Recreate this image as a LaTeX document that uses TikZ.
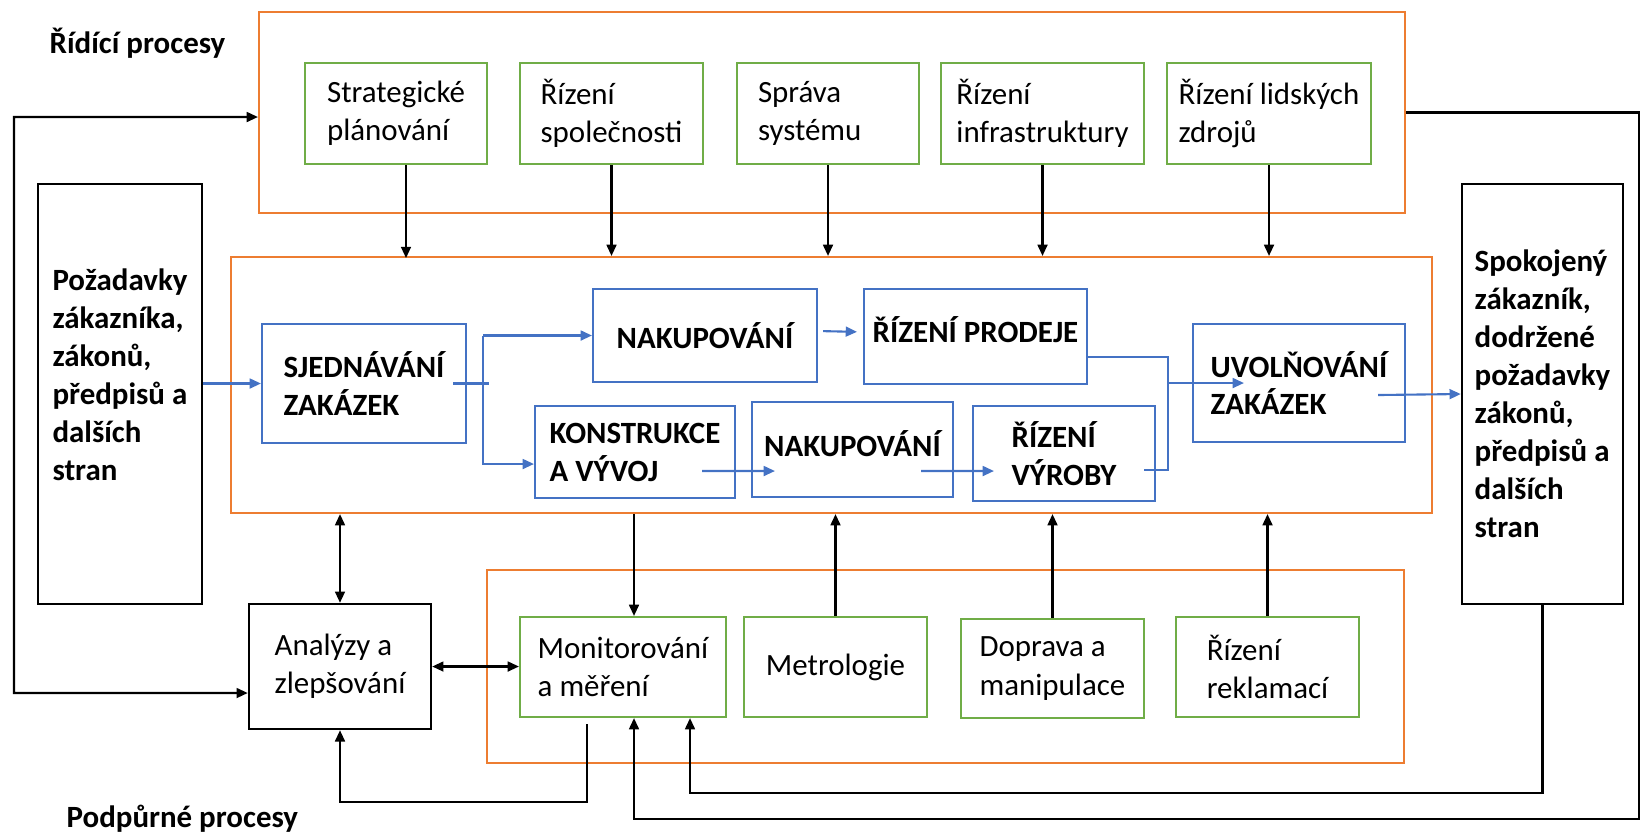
\documentclass[tikz,border=0pt]{standalone}
\usepackage{fontspec}
\setmainfont{Carlito}
\usetikzlibrary{arrows.meta}

\definecolor{regorange}{RGB}{237,125,49}
\definecolor{supgreen}{RGB}{112,173,71}
\definecolor{corblue}{RGB}{68,114,196}

\begin{document}
\begin{tikzpicture}[
    font=\fontsize{8.8}{10.9}\selectfont,
    region/.style={draw=regorange, line width=0.6pt, inner sep=0pt},
    gbox/.style={draw=supgreen, line width=0.6pt, minimum height=1.0cm, align=left, inner sep=0pt},
    bbox/.style={draw=corblue, line width=0.6pt, align=left, inner sep=0pt,
                 font=\fontsize{8.8}{10.8}\selectfont\bfseries},
    kbox/.style={draw, line width=0.7pt, align=left, inner sep=0pt},
    arr/.style={->, >={Triangle[length=3.2pt, width=2.8pt]}, line width=0.6pt},
    barr/.style={arr, draw=corblue},
    bline/.style={draw=corblue, line width=0.6pt},
    title/.style={font=\fontsize{8.8}{10.8}\selectfont\bfseries, anchor=base west, inner sep=0pt},
  ]
  \useasboundingbox (0,0) rectangle (16.49,-8.33);

  % process regions
  \node[region, minimum width=11.46cm, minimum height=2.01cm] (ctrl) at (8.32,-1.125) {};
  \node[region, minimum width=12.01cm, minimum height=2.56cm] (main) at (8.315,-3.85) {};
  \node[region, minimum width=9.17cm, minimum height=1.93cm] (supp) at (9.455,-6.665) {};

  \node[title] (tctrl) at (0.49,-0.53) {Řídící procesy};
  \node[title] (tsupp) at (0.66,-8.27) {Podpůrné procesy};

  % control processes
  \node[gbox, minimum width=1.82cm, minimum height=1.01cm] (strat) at (3.96,-1.135) {Strategické\\plánování};
  \node[gbox, minimum width=1.83cm, minimum height=1.01cm] (spol) at (6.115,-1.135) {Řízení\\společnosti};
  \node[gbox, text width=1.40cm, inner xsep=0.21cm, minimum height=1.01cm] (sys) at (8.28,-1.135) {Správa\\systému};
  \node[gbox, minimum width=2.03cm, minimum height=1.01cm] (infra) at (10.425,-1.135) {Řízení\\infrastruktury};
  \node[gbox, minimum width=2.04cm, minimum height=1.01cm] (hr) at (12.69,-1.135) {Řízení lidských\\zdrojů};

  % main processes
  \node[bbox, minimum width=2.04cm, minimum height=1.19cm] (sjed) at (3.64,-3.835) {SJEDNÁVÁNÍ\\ZAKÁZEK};
  \node[bbox, minimum width=2.24cm, minimum height=0.93cm] (nak1) at (7.05,-3.355) {NAKUPOVÁNÍ};
  \node[bbox, minimum width=2.23cm, minimum height=0.95cm, text depth=0.14cm] (prod) at (9.755,-3.365) {ŘÍZENÍ PRODEJE};
  \node[bbox, minimum width=2.00cm, minimum height=0.92cm] (kon) at (6.35,-4.52) {KONSTRUKCE\\A VÝVOJ};
  \node[bbox, minimum width=2.01cm, minimum height=0.95cm, text depth=0.12cm] (nak2) at (8.525,-4.495) {NAKUPOVÁNÍ};
  \node[bbox, minimum width=1.82cm, minimum height=0.95cm] (vyr) at (10.64,-4.535) {ŘÍZENÍ\\VÝROBY};
  \node[bbox, minimum width=2.12cm, minimum height=1.18cm] (uvol) at (12.99,-3.83) {UVOLŇOVÁNÍ\\ZAKÁZEK};

  % inputs and outputs
  \node[kbox, minimum width=1.64cm, minimum height=4.20cm, text depth=0.38cm, font=\fontsize{8.8}{10.8}\selectfont\bfseries]
    (req) at (1.20,-3.94) {Požadavky\\zákazníka,\\zákonů,\\předpisů a\\dalších\\stran};
  \node[kbox, minimum width=1.61cm, minimum height=4.20cm, font=\fontsize{8.8}{10.8}\selectfont\bfseries]
    (sat) at (15.425,-3.94) {Spokojený\\zákazník,\\dodržené\\požadavky\\zákonů,\\předpisů a\\dalších\\stran};
  \node[kbox, minimum width=1.82cm, minimum height=1.25cm] (anal) at (3.40,-6.665) {Analýzy a\\zlepšování};

  % support processes
  \node[gbox, minimum width=2.06cm] (mon) at (6.23,-6.67) {Monitorování\\a měření};
  \node[gbox, minimum width=1.83cm] (met) at (8.355,-6.67) {Metrologie};
  \node[gbox, minimum width=1.83cm, minimum height=0.99cm] (dop) at (10.525,-6.685) {Doprava a\\manipulace};
  \node[gbox, minimum width=1.83cm] (rekl) at (12.675,-6.67) {Řízení\\reklamací};

  % corner points of the feedback lines
  \coordinate (lc) at (0.14,-6.93);
  \coordinate (fb) at (3.40,-8.02);
  \coordinate (ib) at (6.90,-7.93);
  \coordinate (ob) at (6.34,-8.19);
  \coordinate (oc) at (16.39,-8.19);
  \coordinate (sp) at (4.83,-3.82);
  \coordinate (mgt) at (11.68,-3.57);
  \coordinate (mgb) at (11.68,-4.70);

  % control -> main
  \draw[arr] ([xshift=0.1cm]strat.south) -- ++(0,-0.93);
  \foreach \n in {spol,sys,infra,hr}
    \draw[arr] (\n.south) -- (\n.south |- main.north);

  % support -> main
  \foreach \n in {met,dop,rekl}
    \draw[arr] (\n.north) -- (\n.north |- main.south);
  \draw[arr] (ob |- main.south) -- (ob |- mon.north);

  % feedback loops
  \draw[arr, <->] ([yshift=-0.045cm]ctrl.west) -| (lc) -- ([yshift=-0.265cm]anal.west);
  \draw[arr, <->] (anal.north) -- (anal.north |- main.south);
  \draw[arr, <->] (anal.east) -- (anal.east -| mon.west);
  \draw[arr] ([xshift=-0.36cm,yshift=-0.06cm]mon.south) |- (fb) -- (anal.south);
  \draw[arr] (sat.south) |- (ib) -- (ib |- mon.south);
  \draw[arr] (ctrl.east) -| (oc) -- (ob) -- (ob |- mon.south);

  % main process flow
  \draw[barr] (req.east |- sjed.west) -- (sjed.west);
  \draw[bline] ([xshift=-0.14cm]sjed.east) -- ++(0.36,0);
  \draw[barr] (sp |- nak1.west) -- (nak1.west);
  \draw[barr] (sp |- nak1.west) |- ([yshift=-0.12cm]kon.west);
  \draw[barr, shorten <=0.05cm, shorten >=0.06cm] ([yshift=0.045cm]nak1.east) -- ([yshift=0.045cm]prod.west);
  \draw[barr] ([xshift=-0.34cm,yshift=-0.19cm]kon.east) -- ([xshift=0.24cm,yshift=-0.215cm]nak2.west);
  \draw[barr] ([xshift=-0.33cm,yshift=-0.215cm]nak2.east) -- ([xshift=0.22cm,yshift=-0.175cm]vyr.west);
  \draw[bline] ([yshift=-0.205cm]prod.east) -- (mgt) -- (mgb) -- ([xshift=-0.12cm,yshift=-0.165cm]vyr.east);
  \draw[barr] (mgt |- uvol.west) -- ([xshift=0.52cm]uvol.west);
  \draw[barr] ([xshift=-0.28cm,yshift=-0.12cm]uvol.east) -- (sat.west);

\end{tikzpicture}
\end{document}
